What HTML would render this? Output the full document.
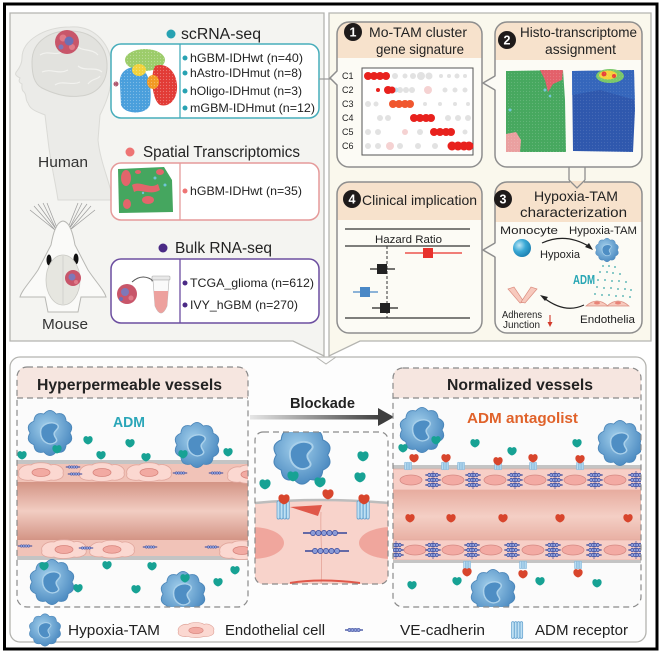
<!DOCTYPE html>
<html><head><meta charset="utf-8"><style>
html,body{margin:0;padding:0;background:#fff;}
svg{display:block;font-family:"Liberation Sans",Arial,sans-serif;}
</style></head><body>
<svg width="661" height="658" viewBox="0 0 661 658" xmlns="http://www.w3.org/2000/svg">
<defs>
 <radialGradient id="tamg" cx="0.42" cy="0.38" r="0.65">
  <stop offset="0" stop-color="#a3d0ec"/><stop offset="1" stop-color="#4a89c0"/>
 </radialGradient>
 <radialGradient id="mono" cx="0.35" cy="0.35" r="0.7">
  <stop offset="0" stop-color="#bfe6f5"/><stop offset="0.5" stop-color="#3aa9d6"/><stop offset="1" stop-color="#1b7fb0"/>
 </radialGradient>
 <linearGradient id="lumL" x1="0" y1="0" x2="0" y2="1">
  <stop offset="0" stop-color="#d39485"/><stop offset="0.5" stop-color="#f2cdc2"/><stop offset="1" stop-color="#d39485"/>
 </linearGradient>
 <linearGradient id="lumR" x1="0" y1="0" x2="0" y2="1">
  <stop offset="0" stop-color="#e7ac9f"/><stop offset="0.5" stop-color="#f4cfc5"/><stop offset="1" stop-color="#e7ac9f"/>
 </linearGradient>
 <linearGradient id="arrowg" x1="0" y1="0" x2="1" y2="0">
  <stop offset="0" stop-color="#e6e6e6"/><stop offset="1" stop-color="#3e3e3e"/>
 </linearGradient>
 <pattern id="speck" width="3" height="3" patternUnits="userSpaceOnUse">
  <circle cx="1.5" cy="1.5" r="0.6" fill="#fff" opacity="0.3"/>
 </pattern>
 <g id="tam">
  <path d="M19,0 Q23.78,7.73 15.37,11.17 Q14.69,20.23 5.87,18.07 Q0,25 -5.87,18.07 Q-14.69,20.23 -15.37,11.17 Q-23.78,7.73 -19,0 Q-23.78,-7.73 -15.37,-11.17 Q-14.69,-20.23 -5.87,-18.07 Q0,-25 5.87,-18.07 Q14.69,-20.23 15.37,-11.17 Q23.78,-7.73 19,0 Z" fill="url(#tamg)" stroke="#4a85b8" stroke-width="0.8"/>
  <path d="M-9,-1 C-9,-9 2,-12 7,-8 C10,-5 5,-3 4,0 C3,4 9,6 5,9 C-1,13 -9,8 -9,-1Z" fill="#4e8ec4" stroke="#a9d0ea" stroke-width="1.4"/>
 </g>
 <path id="drop" d="M0,4.5 C-3,3.8 -5,1.2 -4.6,-1.4 C-4.2,-4 -1.6,-4.6 0,-3 C1.6,-4.6 4.2,-4 4.6,-1.4 C5,1.2 3,3.8 0,4.5Z"/>
 <g id="ved">
  <line x1="-9" y1="0" x2="9" y2="0" stroke="#34469a" stroke-width="1.2"/>
  <g fill="#94a3dc" stroke="#34469a" stroke-width="0.6">
   <circle cx="-4.5" cy="0" r="1.6"/><circle cx="-1.5" cy="0" r="1.6"/><circle cx="1.5" cy="0" r="1.6"/><circle cx="4.5" cy="0" r="1.6"/>
  </g>
 </g>
 <g id="rec" fill="#bfe0f3" stroke="#5b9ccc" stroke-width="0.6">
  <rect x="-5" y="-7" width="2.4" height="14" rx="1.2"/>
  <rect x="-2.4" y="-7" width="2.4" height="14" rx="1.2"/>
  <rect x="0.2" y="-7" width="2.4" height="14" rx="1.2"/>
  <rect x="2.8" y="-7" width="2.4" height="14" rx="1.2"/>
 </g>
 <g id="ecell">
  <path d="M-22,2 C-24,-4 -16,-8 -10,-7 C-6,-10 6,-10 10,-7 C16,-9 24,-4 22,1 C24,6 16,9 10,8 C4,10 -6,10 -10,8 C-16,9 -24,7 -22,2Z" fill="#fbd8d1" stroke="#e0a69c" stroke-width="0.8"/>
  <ellipse cx="0" cy="0.5" rx="9" ry="4" fill="#f2aaa2" stroke="#d7857d" stroke-width="0.8"/>
 </g>
 <g id="vcl">
  <line x1="0" y1="-9" x2="0" y2="9" stroke="#5a5fa0" stroke-width="0.8"/>
  <use href="#ved" transform="translate(0,-5) scale(0.85,1.1)"/>
  <use href="#ved" transform="translate(0,0) scale(0.85,1.1)"/>
  <use href="#ved" transform="translate(0,5) scale(0.85,1.1)"/>
 </g>
 <clipPath id="clipL"><path d="M17,398 H248 V597 Q248,607 238,607 H27 Q17,607 17,597 Z"/></clipPath>
 <clipPath id="clipR"><path d="M393,398 H641 V597 Q641,607 631,607 H403 Q393,607 393,597 Z"/></clipPath>
 <clipPath id="clipM"><rect x="255" y="432" width="133" height="152" rx="8"/></clipPath>
</defs>

<rect width="661" height="658" fill="#fff"/>

<!-- TOP LEFT PANEL -->
<path d="M10,13 H324 V356 L293,341 H10 Z" fill="#f4f4f1" stroke="#b4b4b0" stroke-width="1.3"/>
<!-- TOP RIGHT PANEL -->
<path d="M329,13 H651 V341 H360 L329,356 Z" fill="#faf8ed" stroke="#b4b4b0" stroke-width="1.3"/>

<!-- Human head -->
<path d="M70,27 C95,25 112,45 112,70 C112,90 105,105 100,115 L98,140 C100,160 108,178 112,195 L112,200 L58,200 C55,180 50,160 48,140 L45,115 C38,112 30,110 28,103 C25,100 27,95 24,92 C21,90 22,86 22,84 C18,82 19,80 20,78 C16,76 14,74 17,71 C20,67 22,63 22,58 C22,40 45,27 70,27 Z" fill="#ebebe8" stroke="#dadad6" stroke-width="1"/>
<path d="M32,62 C32,40 52,30 72,31 C95,32 108,48 107,68 C106,85 95,95 80,96 C65,98 50,92 42,88 C34,84 32,74 32,62Z" fill="#e2e2de" stroke="#d0d0cb" stroke-width="1"/>
<g fill="none" stroke="#f2f2ef" stroke-width="1.2">
 <path d="M40,55 C48,50 55,56 62,52"/><path d="M75,45 C82,52 92,48 98,55"/><path d="M42,72 C52,68 58,75 68,70"/>
 <path d="M78,66 C85,72 95,66 102,72"/><path d="M55,85 C62,80 72,86 80,82"/><path d="M88,84 C92,78 98,80 100,76"/>
</g>
<circle cx="67" cy="42" r="12" fill="#c8566a"/>
<circle cx="63" cy="38" r="3.5" fill="#e07a88"/><circle cx="72" cy="47" r="3" fill="#e07a88"/>
<circle cx="69" cy="41" r="4.5" fill="#6b6fb5"/><circle cx="61" cy="47" r="2.5" fill="#7e78b8"/>
<text x="38" y="167" font-size="15" fill="#333" textLength="50" lengthAdjust="spacingAndGlyphs">Human</text>

<!-- Mouse -->
<g stroke="#9a9a9a" stroke-width="0.7" fill="none">
 <path d="M55,230 L30,210"/><path d="M55,230 L34,206"/><path d="M56,229 L38,204"/><path d="M56,229 L43,203"/><path d="M57,228 L47,203"/>
 <path d="M70,230 L95,210"/><path d="M70,230 L91,206"/><path d="M69,229 L87,204"/><path d="M69,229 L82,203"/><path d="M68,228 L78,203"/>
</g>
<path d="M63,221 C56,222 53,234 51,245 L38,270 C30,282 22,290 20,297 L45,297 L48,312 L78,312 L81,297 L106,297 C104,290 96,282 88,270 L75,245 C73,234 70,222 63,221 Z" fill="#fafaf8" stroke="#b8b8b4" stroke-width="1"/>
<ellipse cx="49" cy="260" rx="2.5" ry="5.5" fill="#111"/>
<ellipse cx="76" cy="259" rx="2.5" ry="5.5" fill="#111"/>
<ellipse cx="63" cy="280" rx="17" ry="25" fill="#e6e6e0" stroke="#c9c9c4" stroke-width="0.8"/>
<line x1="63" y1="256" x2="63" y2="304" stroke="#cfcfca" stroke-width="0.8"/>
<circle cx="73" cy="278" r="8" fill="#c8566a"/><circle cx="72" cy="277" r="3.5" fill="#7e78b8"/><circle cx="76" cy="282" r="2" fill="#e07a88"/>
<text x="42" y="329" font-size="15" fill="#333" textLength="46" lengthAdjust="spacingAndGlyphs">Mouse</text>

<!-- scRNA-seq -->
<circle cx="171" cy="34" r="4.5" fill="#27a2b2"/>
<text x="181" y="39" font-size="15.5" fill="#222" textLength="80" lengthAdjust="spacingAndGlyphs">scRNA-seq</text>
<rect x="111" y="44" width="208" height="74" rx="10" fill="#fff" stroke="#47adbb" stroke-width="1.5"/>
<line x1="180" y1="44" x2="180" y2="118" stroke="#47adbb" stroke-width="1.3"/>
<g>
 <ellipse cx="145" cy="60" rx="20" ry="11" fill="#9ccc6a"/>
 <path d="M120,85 C118,72 128,65 140,68 C150,72 152,90 150,105 C146,115 125,115 121,105 Z" fill="#4a9fdc"/>
 <ellipse cx="139" cy="70" rx="7" ry="6" fill="#f2d23c"/>
 <path d="M155,66 C165,62 176,70 177,85 C178,98 170,108 160,105 C152,100 150,75 155,66Z" fill="#e23b36"/>
 <ellipse cx="153" cy="82" rx="6" ry="7" fill="#f29a23"/>
 <circle cx="116" cy="84" r="2.5" fill="#b05a70"/>
 <rect x="114" y="48" width="65" height="68" fill="url(#speck)"/>
</g>
<g fill="#27a2b2"><circle cx="185" cy="58" r="2.5"/><circle cx="185" cy="73" r="2.5"/><circle cx="185" cy="91" r="2.5"/><circle cx="185" cy="108" r="2.5"/></g>
<g font-size="12" fill="#222">
 <text x="190" y="62" textLength="113" lengthAdjust="spacingAndGlyphs">hGBM-IDHwt (n=40)</text>
 <text x="190" y="77" textLength="112" lengthAdjust="spacingAndGlyphs">hAstro-IDHmut (n=8)</text>
 <text x="190" y="95" textLength="112" lengthAdjust="spacingAndGlyphs">hOligo-IDHmut (n=3)</text>
 <text x="190" y="112" textLength="125" lengthAdjust="spacingAndGlyphs">mGBM-IDHmut (n=12)</text>
</g>
<line x1="319" y1="79" x2="331" y2="79" stroke="#9a9a9a" stroke-width="1.2"/>

<!-- Spatial -->
<circle cx="130" cy="152" r="4.5" fill="#ee7474"/>
<text x="143" y="157" font-size="15.5" fill="#222" textLength="157" lengthAdjust="spacingAndGlyphs">Spatial Transcriptomics</text>
<rect x="111" y="163" width="208" height="57" rx="10" fill="#fff" stroke="#e59a9a" stroke-width="1.5"/>
<line x1="180" y1="163" x2="180" y2="220" stroke="#e59a9a" stroke-width="1.3"/>
<path d="M118,169 L164,167 L172,180 L173,212 L119,213 Z" fill="#45a65f"/>
<g fill="#e3656b">
 <ellipse cx="126" cy="178" rx="5" ry="8"/><path d="M132,185 C140,180 150,190 158,184 L160,190 C150,196 140,188 134,192 Z"/>
 <ellipse cx="148" cy="200" rx="6" ry="4"/><ellipse cx="127" cy="204" rx="4" ry="5"/><ellipse cx="160" cy="172" rx="4" ry="3"/>
 <ellipse cx="138" cy="172" rx="3" ry="2"/>
</g>
<g fill="#6fc6d8"><circle cx="155" cy="178" r="1.5"/><circle cx="165" cy="185" r="1.5"/><circle cx="143" cy="193" r="1.2"/></g>
<circle cx="185" cy="191" r="2.5" fill="#ee7474"/>
<text x="190" y="195" font-size="12" fill="#222" textLength="112" lengthAdjust="spacingAndGlyphs">hGBM-IDHwt (n=35)</text>

<!-- Bulk -->
<circle cx="163" cy="248" r="4.5" fill="#4a2a85"/>
<text x="175" y="253" font-size="15.5" fill="#222" textLength="97" lengthAdjust="spacingAndGlyphs">Bulk RNA-seq</text>
<rect x="111" y="259" width="208" height="64" rx="10" fill="#fff" stroke="#6c4ea0" stroke-width="1.5"/>
<line x1="180" y1="259" x2="180" y2="323" stroke="#6c4ea0" stroke-width="1.3"/>
<circle cx="127" cy="294" r="10" fill="#c8566a"/><circle cx="125" cy="292" r="4" fill="#7e78b8"/><circle cx="131" cy="298" r="2.5" fill="#e07a88"/><circle cx="121" cy="299" r="2" fill="#6b6fb5"/>
<path d="M132,282 Q143,272 155,282" fill="none" stroke="#555" stroke-width="1"/>
<path d="M155,282 L151,281 L154,278 Z" fill="#555"/>
<rect x="152" y="276" width="18" height="4" rx="1" fill="#e8e8e8" stroke="#aaa" stroke-width="0.6"/>
<path d="M153,280 L169,280 L167,306 Q161,320 155,306 Z" fill="#fafafa" stroke="#bbb" stroke-width="0.7"/>
<path d="M153.8,291 L168.2,291 L167,306 Q161,320 155,306 Z" fill="#eda19e"/>
<circle cx="185" cy="283" r="2.5" fill="#4a2a85"/><circle cx="185" cy="305" r="2.5" fill="#4a2a85"/>
<text x="190" y="287" font-size="12" fill="#222" textLength="124" lengthAdjust="spacingAndGlyphs">TCGA_glioma (n=612)</text>
<text x="190" y="309" font-size="12" fill="#222" textLength="108" lengthAdjust="spacingAndGlyphs">IVY_hGBM (n=270)</text>

<!-- BOX 1 -->
<rect x="337" y="22" width="145" height="145" rx="12" fill="#fcfbf5"/>
<path d="M337,58 V34 Q337,22 349,22 H470 Q482,22 482,34 V58 Z" fill="#f7e2cc"/>
<rect x="337" y="22" width="145" height="145" rx="12" fill="none" stroke="#8e8e8e" stroke-width="1.5"/>
<polygon points="338,71 330,78 338,85" fill="#fcfbf5"/>
<polyline points="337,71 330,78 337,85" fill="none" stroke="#8e8e8e" stroke-width="1.5"/>
<circle cx="353" cy="32" r="9" fill="#1e1a1a"/>
<text x="353" y="36.5" font-size="12.5" font-weight="bold" fill="#fff" text-anchor="middle">1</text>
<text x="369" y="37" font-size="14" fill="#222" textLength="98" lengthAdjust="spacingAndGlyphs">Mo-TAM cluster</text>
<text x="376" y="54" font-size="14" fill="#222" textLength="88" lengthAdjust="spacingAndGlyphs">gene signature</text>
<rect x="362" y="68" width="111" height="87" fill="#fff" stroke="#555" stroke-width="1"/>
<g font-size="9" fill="#222">
 <text x="342" y="79">C1</text><text x="342" y="93">C2</text><text x="342" y="107">C3</text>
 <text x="342" y="121">C4</text><text x="342" y="135">C5</text><text x="342" y="149">C6</text>
</g>
<g fill="#e2e2e2">
 <circle cx="395" cy="76" r="3"/><circle cx="405" cy="76" r="2.5"/><circle cx="413" cy="76" r="3"/><circle cx="421" cy="76" r="4"/><circle cx="429" cy="76" r="3.5"/><circle cx="441" cy="76" r="2"/><circle cx="449" cy="76" r="2"/><circle cx="457" cy="76" r="2.5"/><circle cx="465" cy="76" r="2"/>
 <circle cx="400" cy="90" r="3"/><circle cx="406" cy="90" r="3"/><circle cx="412" cy="90" r="3"/><circle cx="445" cy="90" r="2.5"/><circle cx="455" cy="90" r="2.5"/><circle cx="465" cy="90" r="2.5"/>
 <circle cx="368" cy="104" r="3"/><circle cx="376" cy="104" r="2.5"/><circle cx="425" cy="104" r="2"/><circle cx="440" cy="104" r="2"/><circle cx="455" cy="104" r="2"/><circle cx="468" cy="104" r="2"/>
 <circle cx="380" cy="118" r="3"/><circle cx="388" cy="118" r="3"/><circle cx="448" cy="118" r="3"/><circle cx="458" cy="118" r="3"/><circle cx="468" cy="118" r="3"/>
 <circle cx="368" cy="132" r="3"/><circle cx="378" cy="132" r="3"/><circle cx="420" cy="132" r="3"/><circle cx="465" cy="132" r="2.5"/>
 <circle cx="368" cy="146" r="3"/><circle cx="378" cy="146" r="3"/><circle cx="400" cy="146" r="3"/><circle cx="418" cy="146" r="3"/><circle cx="435" cy="146" r="3"/>
</g>
<g fill="#f5d2d2"><circle cx="428" cy="90" r="4"/><circle cx="405" cy="132" r="3"/><circle cx="390" cy="146" r="4"/></g>
<circle cx="396" cy="90" r="2.5" fill="#bfe0ee"/>
<g fill="#e8211d">
 <circle cx="368" cy="76" r="4"/><circle cx="374" cy="76" r="4"/><circle cx="380" cy="76" r="4"/><circle cx="386" cy="76" r="4"/>
 <circle cx="378" cy="90" r="2"/><circle cx="388" cy="90" r="4"/><circle cx="392" cy="90" r="3.5"/>
 <circle cx="414" cy="118" r="4"/><circle cx="420" cy="118" r="4"/><circle cx="426" cy="118" r="4"/><circle cx="431" cy="118" r="4"/>
 <circle cx="434" cy="132" r="4"/><circle cx="440" cy="132" r="4"/><circle cx="446" cy="132" r="4"/><circle cx="451" cy="132" r="4"/>
 <circle cx="452" cy="146" r="4.5"/><circle cx="458" cy="146" r="4.5"/><circle cx="464" cy="146" r="4.5"/><circle cx="469" cy="146" r="4.5"/>
</g>
<g fill="#f0572f"><circle cx="393" cy="104" r="4"/><circle cx="399" cy="104" r="4"/><circle cx="405" cy="104" r="4"/><circle cx="410" cy="104" r="4"/></g>

<!-- BOX 2 -->
<rect x="495" y="22" width="147" height="145" rx="12" fill="#fcfbf5"/>
<path d="M495,60 V34 Q495,22 507,22 H630 Q642,22 642,34 V60 Z" fill="#f7e2cc"/>
<rect x="495" y="22" width="147" height="145" rx="12" fill="none" stroke="#8e8e8e" stroke-width="1.5"/>
<polygon points="496,76 483,83 496,90" fill="#fcfbf5"/>
<polyline points="495,76 483,83 495,90" fill="none" stroke="#8e8e8e" stroke-width="1.5"/>
<circle cx="507" cy="40" r="9" fill="#1e1a1a"/>
<text x="507" y="44.5" font-size="12.5" font-weight="bold" fill="#fff" text-anchor="middle">2</text>
<text x="520" y="37" font-size="14" fill="#222" textLength="117" lengthAdjust="spacingAndGlyphs">Histo-transcriptome</text>
<text x="545" y="54" font-size="14" fill="#222" textLength="71" lengthAdjust="spacingAndGlyphs">assignment</text>
<path d="M506,71 L563,70 L565,100 L566,152 L506,152 Z" fill="#47a85f"/>
<path d="M540,70 L563,70 L562,80 L553,84 L548,92 L545,80 Z" fill="#e3606a"/>
<path d="M506,134 L516,132 L521,140 L520,152 L506,152 Z" fill="#eaa0a0"/>
<g fill="#6fc6d8"><circle cx="545" cy="90" r="1.5"/><circle cx="550" cy="96" r="1.3"/><circle cx="510" cy="110" r="1.5"/></g>
<rect x="506" y="70" width="60" height="82" fill="url(#speck)" opacity="0.5"/>
<path d="M572,71 L634,70 L635,110 L633,152 L573,151 Z" fill="#2f58ad"/>
<path d="M572,71 L634,70 L635,100 L600,90 L572,95 Z" fill="#3a6fc4" opacity="0.6"/>
<ellipse cx="610" cy="76" rx="14" ry="7" fill="#7bc86a"/>
<ellipse cx="608" cy="75" rx="9" ry="4.5" fill="#f2d23c"/>
<circle cx="604" cy="74" r="2.5" fill="#e8423a"/><circle cx="614" cy="76" r="2" fill="#e8423a"/>
<rect x="572" y="70" width="63" height="82" fill="url(#speck)" opacity="0.35"/>

<!-- BOX 3 -->
<rect x="495" y="182" width="147" height="151" rx="12" fill="#fcfbf5"/>
<path d="M495,222 V194 Q495,182 507,182 H630 Q642,182 642,194 V222 Z" fill="#f7e2cc"/>
<rect x="495" y="182" width="147" height="151" rx="12" fill="none" stroke="#8e8e8e" stroke-width="1.5"/>
<line x1="569" y1="167" x2="569" y2="180" stroke="#8e8e8e" stroke-width="1.3"/>
<line x1="585" y1="167" x2="585" y2="180" stroke="#8e8e8e" stroke-width="1.3"/>
<rect x="570" y="181" width="14" height="3" fill="#f7e2cc"/>
<polyline points="569,180 577,188 585,180" fill="none" stroke="#8e8e8e" stroke-width="1.3"/>
<polygon points="496,243 483,250 496,257" fill="#fcfbf5"/>
<polyline points="495,243 483,250 495,257" fill="none" stroke="#8e8e8e" stroke-width="1.5"/>
<circle cx="503" cy="199" r="9" fill="#1e1a1a"/>
<text x="503" y="203.5" font-size="12.5" font-weight="bold" fill="#fff" text-anchor="middle">3</text>
<text x="534" y="201" font-size="14" fill="#222" textLength="84" lengthAdjust="spacingAndGlyphs">Hypoxia-TAM</text>
<text x="520" y="217" font-size="14" fill="#222" textLength="107" lengthAdjust="spacingAndGlyphs">characterization</text>
<text x="500" y="234" font-size="11" fill="#222" textLength="58" lengthAdjust="spacingAndGlyphs">Monocyte</text>
<text x="569" y="234" font-size="11" fill="#222" textLength="68" lengthAdjust="spacingAndGlyphs">Hypoxia-TAM</text>
<circle cx="522" cy="248" r="9" fill="url(#mono)"/>
<text x="540" y="258" font-size="11" fill="#222" textLength="40" lengthAdjust="spacingAndGlyphs">Hypoxia</text>
<path d="M542,243 Q566,232 590,247" fill="none" stroke="#222" stroke-width="1.2"/>
<path d="M593,250 L585,247 L589,243 Z" fill="#222"/>
<use href="#tam" transform="translate(607,250) scale(0.55)"/>
<g fill="#3aa7a8">
 <circle cx="603" cy="266" r="0.9"/><circle cx="609" cy="266" r="0.9"/><circle cx="615" cy="267" r="0.9"/><circle cx="600" cy="272" r="0.9"/><circle cx="607" cy="272" r="0.9"/><circle cx="613" cy="273" r="0.9"/><circle cx="620" cy="274" r="0.9"/>
 <circle cx="598" cy="280" r="0.9"/><circle cx="605" cy="280" r="0.9"/><circle cx="612" cy="281" r="0.9"/><circle cx="619" cy="281" r="0.9"/><circle cx="626" cy="282" r="0.9"/>
 <circle cx="597" cy="287" r="0.9"/><circle cx="604" cy="288" r="0.9"/><circle cx="611" cy="288" r="0.9"/><circle cx="618" cy="289" r="0.9"/><circle cx="625" cy="289" r="0.9"/><circle cx="631" cy="290" r="0.9"/>
 <circle cx="595" cy="294" r="0.9"/><circle cx="602" cy="295" r="0.9"/><circle cx="609" cy="295" r="0.9"/><circle cx="616" cy="296" r="0.9"/><circle cx="623" cy="296" r="0.9"/><circle cx="630" cy="297" r="0.9"/>
</g>
<text x="573" y="284" font-size="12.5" font-weight="bold" fill="#27a6b4" textLength="22" lengthAdjust="spacingAndGlyphs">ADM</text>
<g fill="#f7c9bd" stroke="#dc8e80" stroke-width="0.7">
 <path d="M586,306 Q597,296 608,306 Z"/><path d="M607,306 Q618,296 629,306 Z"/>
</g>
<g fill="#e88478"><ellipse cx="597" cy="303" rx="3" ry="1.5"/><ellipse cx="618" cy="303" rx="3" ry="1.5"/></g>
<text x="580" y="323" font-size="11" fill="#222" textLength="55" lengthAdjust="spacingAndGlyphs">Endothelia</text>
<g fill="#f7c9bd" stroke="#dc8e80" stroke-width="0.7">
 <path d="M508,289 L514,287 L524,302 L520,303 Z"/><path d="M537,289 L531,287 L521,302 L525,303 Z"/>
</g>
<path d="M584,305 Q565,314 544,298" fill="none" stroke="#222" stroke-width="1.2"/>
<path d="M540,295 L548,297 L545,301 Z" fill="#222"/>
<text x="502" y="318" font-size="10" fill="#222" textLength="40" lengthAdjust="spacingAndGlyphs">Adherens</text>
<text x="503" y="328" font-size="10" fill="#222" textLength="37" lengthAdjust="spacingAndGlyphs">Junction</text>
<line x1="550" y1="315" x2="550" y2="323" stroke="#d23a2a" stroke-width="1.1"/>
<path d="M547.5,322 L552.5,322 L550,327 Z" fill="#d23a2a"/>

<!-- BOX 4 -->
<rect x="337" y="182" width="145" height="151" rx="12" fill="#fcfbf5"/>
<path d="M337,220 V194 Q337,182 349,182 H470 Q482,182 482,194 V220 Z" fill="#f7e2cc"/>
<rect x="337" y="182" width="145" height="151" rx="12" fill="none" stroke="#8e8e8e" stroke-width="1.5"/>
<circle cx="352" cy="199" r="9" fill="#1e1a1a"/>
<text x="352" y="203.5" font-size="12.5" font-weight="bold" fill="#fff" text-anchor="middle">4</text>
<text x="362" y="205" font-size="14" fill="#222" textLength="115" lengthAdjust="spacingAndGlyphs">Clinical implication</text>
<g stroke="#333" stroke-width="1.2">
 <line x1="345" y1="229" x2="470" y2="229"/><line x1="345" y1="246" x2="470" y2="246"/><line x1="345" y1="318" x2="470" y2="318"/>
</g>
<text x="375" y="243" font-size="11" fill="#222" textLength="67" lengthAdjust="spacingAndGlyphs">Hazard Ratio</text>
<line x1="387" y1="246" x2="387" y2="318" stroke="#333" stroke-width="1" stroke-dasharray="3,2"/>
<line x1="405" y1="253" x2="462" y2="253" stroke="#e8322c" stroke-width="1.3"/>
<rect x="423" y="248" width="10" height="10" fill="#e8322c"/>
<line x1="370" y1="269" x2="395" y2="269" stroke="#222" stroke-width="1.3"/>
<rect x="377" y="264" width="10" height="10" fill="#222"/>
<line x1="353" y1="292" x2="378" y2="292" stroke="#4a88c6" stroke-width="1.3"/>
<rect x="360" y="287" width="10" height="10" fill="#4a88c6"/>
<line x1="372" y1="308" x2="398" y2="308" stroke="#222" stroke-width="1.3"/>
<rect x="380" y="303" width="10" height="10" fill="#222"/>

<!-- BOTTOM PANEL -->
<rect x="10" y="357" width="636" height="285" rx="10" fill="#fdfdfd" stroke="#b4b4b0" stroke-width="1.3"/>
<path d="M316,357 L326,364 L336,357" fill="none" stroke="#b4b4b0" stroke-width="1"/>

<!-- Left vessel box -->
<path d="M17,398 V377 Q17,367 27,367 H238 Q248,367 248,377 V398 Z" fill="#f6e6e0"/>
<g clip-path="url(#clipL)">
 <rect x="17" y="398" width="231" height="209" fill="#fbfbfb"/>
 <rect x="17" y="460" width="231" height="4" fill="#c4c4c4"/>
 <rect x="17" y="464" width="231" height="18" fill="#f1c3b8"/>
 <rect x="17" y="482" width="231" height="58" fill="url(#lumL)"/>
 <rect x="17" y="540" width="231" height="16" fill="#f1c3b8"/>
 <rect x="17" y="556" width="231" height="4" fill="#c4c4c4"/>
 <use href="#ecell" transform="translate(41,472)"/>
 <use href="#ecell" transform="translate(102,472)"/>
 <use href="#ecell" transform="translate(149,472)"/>
 <use href="#ecell" transform="translate(250,474)"/>
 <use href="#ecell" transform="translate(64,549)"/>
 <use href="#ecell" transform="translate(112,549) scale(1,0.95)"/>
 <use href="#ecell" transform="translate(242,550)"/>
 <use href="#ved" transform="translate(73,467) scale(0.8)"/>
 <use href="#ved" transform="translate(75,474) scale(0.8)"/>
 <use href="#ved" transform="translate(180,473) scale(0.8)"/>
 <use href="#ved" transform="translate(216,473) scale(0.8)"/>
 <use href="#ved" transform="translate(25,546) scale(0.8)"/>
 <use href="#ved" transform="translate(86,548) scale(0.8)"/>
 <use href="#ved" transform="translate(150,547) scale(0.8)"/>
 <use href="#ved" transform="translate(212,547) scale(0.8)"/>
 <use href="#tam" transform="translate(50,433) scale(1.05)"/>
 <use href="#tam" transform="translate(197,445) scale(1.05)"/>
 <use href="#tam" transform="translate(52,582) scale(1.05)"/>
 <use href="#tam" transform="translate(183,594) scale(1.05)"/>
 <g fill="#17a294">
  <use href="#drop" transform="translate(57,449)"/><use href="#drop" transform="translate(88,440)"/><use href="#drop" transform="translate(130,443)"/>
  <use href="#drop" transform="translate(183,454)"/><use href="#drop" transform="translate(228,452)"/><use href="#drop" transform="translate(22,455)"/>
  <use href="#drop" transform="translate(101,455)"/><use href="#drop" transform="translate(146,457)"/><use href="#drop" transform="translate(44,566)"/>
  <use href="#drop" transform="translate(107,565)"/><use href="#drop" transform="translate(152,566)"/><use href="#drop" transform="translate(136,589)"/>
  <use href="#drop" transform="translate(185,578)"/><use href="#drop" transform="translate(218,582)"/><use href="#drop" transform="translate(78,588)"/>
  <use href="#drop" transform="translate(235,570)"/>
 </g>
</g>
<rect x="17" y="367" width="231" height="240" rx="10" fill="none" stroke="#8a8a8a" stroke-width="1.2" stroke-dasharray="6,4"/>
<line x1="17" y1="398" x2="248" y2="398" stroke="#8a8a8a" stroke-width="1.2" stroke-dasharray="6,4"/>
<text x="37" y="390" font-size="15.5" font-weight="bold" fill="#222" textLength="185" lengthAdjust="spacingAndGlyphs">Hyperpermeable vessels</text>
<text x="113" y="427" font-size="15" font-weight="bold" fill="#2aa6b8" textLength="32" lengthAdjust="spacingAndGlyphs">ADM</text>

<!-- Blockade arrow -->
<text x="290" y="408" font-size="14.5" font-weight="bold" fill="#222" textLength="65" lengthAdjust="spacingAndGlyphs">Blockade</text>
<rect x="250" y="415" width="131" height="4.5" fill="url(#arrowg)"/>
<path d="M378,408 L394,417 L378,426 Z" fill="#3e3e3e"/>

<!-- Middle box -->
<g clip-path="url(#clipM)">
 <rect x="255" y="432" width="133" height="152" fill="#fcfcfc"/>
 <path d="M255,503 Q320,497 388,503 V584 H255 Z" fill="#f8d3cb"/>
 <path d="M255,503 Q320,497 388,503" fill="none" stroke="#bdbdbd" stroke-width="2.5"/>
 <path d="M290,507 L322,505 L318,516 Z" fill="#e0584a"/>
 <ellipse cx="252" cy="543" rx="32" ry="16" fill="#f0a69d"/>
 <ellipse cx="392" cy="543" rx="33" ry="16" fill="#f0a69d"/>
 <path d="M321,512 C320,535 323,560 321,584" fill="none" stroke="#e4a398" stroke-width="0.8"/>
 <path d="M290,583 Q320,578 360,583" fill="none" stroke="#e0584a" stroke-width="2"/>
 <line x1="303" y1="533" x2="347" y2="533" stroke="#34469a" stroke-width="1.4"/>
 <line x1="305" y1="551" x2="349" y2="551" stroke="#34469a" stroke-width="1.4"/>
 <g fill="#8b9bd6" stroke="#34469a" stroke-width="0.7">
  <circle cx="313" cy="533" r="2.6"/><circle cx="318.5" cy="533" r="2.6"/><circle cx="324" cy="533" r="2.6"/><circle cx="329.5" cy="533" r="2.6"/><circle cx="335" cy="533" r="2.6"/>
  <circle cx="315" cy="551" r="2.6"/><circle cx="320.5" cy="551" r="2.6"/><circle cx="326" cy="551" r="2.6"/><circle cx="331.5" cy="551" r="2.6"/><circle cx="337" cy="551" r="2.6"/>
 </g>
 <use href="#tam" transform="translate(302,455) scale(1.35)"/>
 <use href="#rec" transform="translate(283,510) scale(1.2,1.3)"/>
 <use href="#rec" transform="translate(363,510) scale(1.2,1.3)"/>
 <g fill="#17a294">
  <use href="#drop" transform="translate(265,484) scale(1.2)"/><use href="#drop" transform="translate(293,476) scale(1.2)"/><use href="#drop" transform="translate(320,482) scale(1.2)"/>
  <use href="#drop" transform="translate(363,456) scale(1.2)"/><use href="#drop" transform="translate(360,477) scale(1.2)"/>
 </g>
 <g fill="#d8452c">
  <use href="#drop" transform="translate(284,499) scale(1.2)"/><use href="#drop" transform="translate(328,494) scale(1.2)"/><use href="#drop" transform="translate(364,499) scale(1.2)"/>
 </g>
</g>
<rect x="255" y="432" width="133" height="152" rx="8" fill="none" stroke="#8a8a8a" stroke-width="1.2" stroke-dasharray="6,4"/>

<!-- Right vessel box -->
<path d="M393,398 V378 Q393,368 403,368 H631 Q641,368 641,378 V398 Z" fill="#f6e6e0"/>
<g clip-path="url(#clipR)">
 <rect x="393" y="398" width="248" height="209" fill="#fbfbfb"/>
 <rect x="393" y="465" width="248" height="4" fill="#c4c4c4"/>
 <rect x="393" y="469" width="248" height="21" fill="#f7cfc7" stroke="#e0a79c" stroke-width="0.6"/>
 <rect x="393" y="490" width="248" height="53" fill="url(#lumR)"/>
 <rect x="393" y="540" width="248" height="20" fill="#f7cfc7" stroke="#e0a79c" stroke-width="0.6"/>
 <rect x="393" y="560" width="248" height="3" fill="#c4c4c4"/>
 <g fill="#f3aaa3" stroke="#d58a84" stroke-width="0.8">
  <ellipse cx="411" cy="480" rx="11" ry="5"/><ellipse cx="453" cy="480" rx="11" ry="5"/><ellipse cx="495" cy="480" rx="11" ry="5"/><ellipse cx="535" cy="480" rx="11" ry="5"/><ellipse cx="575" cy="480" rx="11" ry="5"/><ellipse cx="615" cy="480" rx="11" ry="5"/>
  <ellipse cx="415" cy="550" rx="11" ry="5"/><ellipse cx="453" cy="550" rx="11" ry="5"/><ellipse cx="491" cy="550" rx="11" ry="5"/><ellipse cx="533" cy="550" rx="11" ry="5"/><ellipse cx="573" cy="550" rx="11" ry="5"/><ellipse cx="615" cy="550" rx="11" ry="5"/>
 </g>
 <use href="#vcl" transform="translate(433,480)"/><use href="#vcl" transform="translate(473,480)"/><use href="#vcl" transform="translate(515,480)"/><use href="#vcl" transform="translate(555,480)"/><use href="#vcl" transform="translate(595,480)"/><use href="#vcl" transform="translate(636,480)"/>
 <use href="#vcl" transform="translate(396,550)"/><use href="#vcl" transform="translate(433,550)"/><use href="#vcl" transform="translate(472,550)"/><use href="#vcl" transform="translate(512,550)"/><use href="#vcl" transform="translate(553,550)"/><use href="#vcl" transform="translate(594,550)"/><use href="#vcl" transform="translate(636,550)"/>
 <use href="#tam" transform="translate(422,430) scale(1.05)"/>
 <use href="#tam" transform="translate(620,443) scale(1.05)"/>
 <use href="#tam" transform="translate(493,592) scale(1.05)"/>
 <g>
  <use href="#rec" transform="translate(408,466) scale(0.7,0.55)"/><use href="#rec" transform="translate(445,466) scale(0.7,0.55)"/><use href="#rec" transform="translate(461,466) scale(0.7,0.55)"/>
  <use href="#rec" transform="translate(498,466) scale(0.7,0.55)"/><use href="#rec" transform="translate(533,466) scale(0.7,0.55)"/><use href="#rec" transform="translate(580,466) scale(0.7,0.55)"/>
  <use href="#rec" transform="translate(467,565) scale(0.7,0.55)"/><use href="#rec" transform="translate(523,565) scale(0.7,0.55)"/><use href="#rec" transform="translate(578,565) scale(0.7,0.55)"/>
 </g>
 <g fill="#d8452c">
  <use href="#drop" transform="translate(414,458)"/><use href="#drop" transform="translate(446,458)"/><use href="#drop" transform="translate(498,461)"/><use href="#drop" transform="translate(533,458)"/><use href="#drop" transform="translate(580,459)"/>
  <use href="#drop" transform="translate(410,518)"/><use href="#drop" transform="translate(451,518)"/><use href="#drop" transform="translate(503,518)"/><use href="#drop" transform="translate(560,518)"/><use href="#drop" transform="translate(628,518)"/>
  <use href="#drop" transform="translate(467,572)"/><use href="#drop" transform="translate(523,574)"/><use href="#drop" transform="translate(578,573)"/>
 </g>
 <g fill="#17a294">
  <use href="#drop" transform="translate(403,448)"/><use href="#drop" transform="translate(436,440)"/><use href="#drop" transform="translate(475,443)"/><use href="#drop" transform="translate(512,451)"/><use href="#drop" transform="translate(577,443)"/>
  <use href="#drop" transform="translate(412,585)"/><use href="#drop" transform="translate(457,581)"/><use href="#drop" transform="translate(540,581)"/><use href="#drop" transform="translate(597,583)"/>
 </g>
</g>
<rect x="393" y="368" width="248" height="239" rx="10" fill="none" stroke="#8a8a8a" stroke-width="1.2" stroke-dasharray="6,4"/>
<line x1="393" y1="398" x2="641" y2="398" stroke="#8a8a8a" stroke-width="1.2" stroke-dasharray="6,4"/>
<text x="447" y="390" font-size="15.5" font-weight="bold" fill="#222" textLength="146" lengthAdjust="spacingAndGlyphs">Normalized vessels</text>
<text x="467" y="423" font-size="15" font-weight="bold" fill="#e0622a" textLength="111" lengthAdjust="spacingAndGlyphs">ADM antagolist</text>

<!-- Legend -->
<use href="#tam" transform="translate(45,630) scale(0.75)"/>
<text x="68" y="635" font-size="15" fill="#222" textLength="92" lengthAdjust="spacingAndGlyphs">Hypoxia-TAM</text>
<use href="#ecell" transform="translate(196,630) scale(0.8)"/>
<text x="225" y="635" font-size="15" fill="#222" textLength="100" lengthAdjust="spacingAndGlyphs">Endothelial cell</text>
<use href="#ved" transform="translate(354,630)"/>
<text x="400" y="635" font-size="15" fill="#222" textLength="85" lengthAdjust="spacingAndGlyphs">VE-cadherin</text>
<use href="#rec" transform="translate(517,630) scale(1.1,1.2)"/>
<text x="535" y="635" font-size="15" fill="#222" textLength="93" lengthAdjust="spacingAndGlyphs">ADM receptor</text>

<!-- Outer black border -->
<rect x="4.5" y="4" width="652.5" height="645" fill="none" stroke="#000" stroke-width="3"/>
</svg>
</body></html>
